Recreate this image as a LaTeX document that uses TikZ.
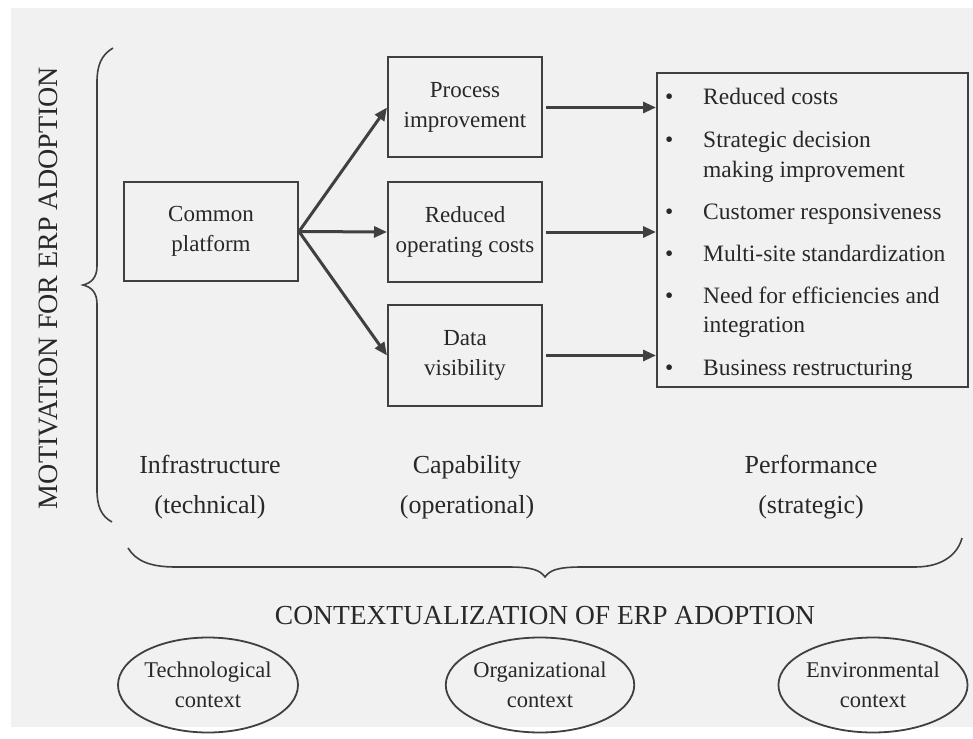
\documentclass[tikz,border=0pt]{standalone}
\usepackage{fontspec}
\setmainfont{Liberation Serif}
\usetikzlibrary{arrows.meta,shapes.geometric}
\definecolor{bggray}{HTML}{F1F1F1}
\definecolor{linegray}{HTML}{404040}
\definecolor{textgray}{HTML}{282828}
\begin{document}
\begin{tikzpicture}[x=1pt,y=-1pt,
  box/.style={draw=linegray,line width=2pt,minimum width=#1,inner sep=0pt,text=textgray,align=center,font=\fontsize{23}{30}\selectfont},
  box/.default=154pt,
  arr/.style={draw=linegray,line width=3pt,-{Triangle[length=13pt,width=11pt]}},
  bul/.style={anchor=base west,text=textgray,font=\fontsize{23.5}{29}\selectfont,inner sep=0pt},
  lab/.style={text=textgray,align=center,font=\fontsize{26}{40}\selectfont},
  ctx/.style={ellipse,draw=linegray,line width=1.8pt,minimum width=180pt,minimum height=95pt,inner sep=0pt,text=textgray,align=center,font=\fontsize{22.5}{30}\selectfont},
  brace/.style={draw=linegray,line width=1.6pt}]
\useasboundingbox (0,0) rectangle (973,738);
\fill[white] (0,0) rectangle (973,738);
\fill[bggray] (11,8) rectangle (973,727);

% vertical title
\node[rotate=90,text=textgray,font=\fontsize{28}{30}\selectfont] (motiv) at (48,288) {MOTIVATION FOR ERP ADOPTION};

% left brace
\draw[brace] (113,48) .. controls (101,55) and (97,66) .. (97,82) -- (97,266)
  .. controls (97,278) and (91,283) .. (83,285) .. controls (91,287) and (97,292) .. (97,304)
  -- (97,490) .. controls (97,506) and (101,516) .. (112,522);

% boxes
\node[box=174pt,minimum height=99pt] (common) at (211,231.5) {Common\\platform};
\node[box,minimum height=100pt] (proc) at (465,107.5) {Process\\improvement};
\node[box,minimum height=100pt] (redop) at (465,232) {Reduced\\operating costs};
\node[box,minimum height=101pt] (data) at (465,355.5) {Data\\visibility};
\node[draw=linegray,line width=2pt,minimum width=311pt,minimum height=313pt,inner sep=0pt] (perf) at (812.5,230) {};

% arrows
\draw[arr] (common.east) -- (proc.west);
\draw[arr] (common.east) -- (redop.west);
\draw[arr] (common.east) -- (data.west);
\draw[arr] (proc.east) ++(3,0) coordinate (p1) (p1) -- (p1 -| perf.west);
\draw[arr] (redop.east) ++(3,0) coordinate (p2) (p2) -- (p2 -| perf.west);
\draw[arr] (data.east) ++(3,0) coordinate (p3) (p3) -- (p3 -| perf.west);

% bullet list
\node[bul] (b1) at (665,105) {•};
\node[bul] (t1) at (703,105) {Reduced costs};
\node[bul] (b2) at (665,148) {•};
\node[bul] (t2) at (703,148) {Strategic decision};
\node[bul] (t2b) at (703,177) {making improvement};
\node[bul] (b3) at (665,219) {•};
\node[bul] (t3) at (703,219) {Customer responsiveness};
\node[bul] (b4) at (665,261) {•};
\node[bul] (t4) at (703,261) {Multi-site standardization};
\node[bul] (b5) at (665,303) {•};
\node[bul] (t5) at (703,303) {Need for efficiencies and};
\node[bul] (t5b) at (703,332) {integration};
\node[bul] (b6) at (665,375) {•};
\node[bul] (t6) at (703,375) {Business restructuring};

% level labels
\node[lab] (infra) at (210,487) {Infrastructure\\(technical)};
\node[lab] (capa) at (467,487) {Capability\\(operational)};
\node[lab] (perfl) at (811,487) {Performance\\(strategic)};

% bottom brace
\draw[brace] (128,548) .. controls (136,561) and (150,567) .. (176,567) -- (508,567)
  .. controls (532,567) and (540,570) .. (545,577) .. controls (550,570) and (558,567) .. (582,567)
  -- (915,567) .. controls (944,567) and (958,553) .. (962,538);

\node[text=textgray,font=\fontsize{27.5}{30}\selectfont] (contx) at (545,616) {CONTEXTUALIZATION OF ERP ADOPTION};

% context ellipses
\node[ctx] (tech) at (208,685) {Technological\\context};
\node[ctx] (org) at (540,685) {Organizational\\context};
\node[ctx] (env) at (873,685) {Environmental\\context};
\end{tikzpicture}
\end{document}
